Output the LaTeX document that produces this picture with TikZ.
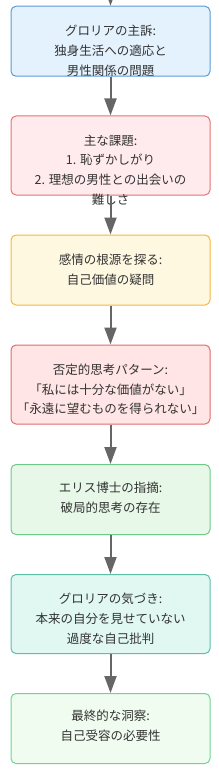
\documentclass[tikz,border=0pt]{standalone}
\usepackage{fontspec}
\setmainfont{Noto Sans CJK JP}
\usetikzlibrary{arrows.meta}

\definecolor{textegris}{HTML}{333333}
\definecolor{flechegris}{HTML}{666666}
\definecolor{bleufond}{HTML}{E3F2FD}
\definecolor{bleubord}{HTML}{5B9BD5}
\definecolor{rougefond}{HTML}{FFEBEE}
\definecolor{rougebord}{HTML}{E57373}
\definecolor{jaunefond}{HTML}{FFF8E1}
\definecolor{jaunebord}{HTML}{F5B642}
\definecolor{rosefond}{HTML}{FFE5E5}
\definecolor{rosebord}{HTML}{E06C6C}
\definecolor{vertfond}{HTML}{E8F8E8}
\definecolor{vertbord}{HTML}{6CCB8A}
\definecolor{cyanfond}{HTML}{E0F7F2}
\definecolor{cyanbord}{HTML}{5DBFA8}
\definecolor{vertclfond}{HTML}{F0FCF0}
\definecolor{vertclbord}{HTML}{70D494}

\begin{document}
\begin{tikzpicture}[x=1pt, y=-1pt,
    boite/.style={rounded corners=5pt, line width=1pt, minimum width=199pt, inner sep=0pt},
    texte/.style={anchor=north, align=center, inner sep=0pt, text=textegris,
        font=\fontsize{12.5}{19.8}\selectfont},
    fleche/.style={draw=flechegris, line width=2pt, -{Triangle[length=17pt, width=12pt]}}]

    % Cadre
    \clip (0,0) rectangle (218,770);

    % Boîtes
    \node[boite, draw=bleubord, fill=bleufond, minimum height=70pt] (plainte) at (110.5,41.25) {};
    \node[boite, draw=rougebord, fill=rougefond, minimum height=79pt] (defis) at (110.5,155.5) {};
    \node[boite, draw=jaunebord, fill=jaunefond, minimum height=70pt] (racine) at (110.5,270) {};
    \node[boite, draw=rosebord, fill=rosefond, minimum height=79pt] (negatif) at (110.5,384.5) {};
    \node[boite, draw=vertbord, fill=vertfond, minimum height=70pt] (ellis) at (110.5,499.5) {};
    \node[boite, draw=cyanbord, fill=cyanfond, minimum height=79pt] (eveil) at (110.5,614) {};
    \node[boite, draw=vertclbord, fill=vertclfond, minimum height=70pt] (final) at (110.5,728.5) {};

    % Textes
    \node[texte] (plaintetxt) at ([yshift=-19pt]plainte.north) {グロリアの主訴:\\独身生活への適応と\\男性関係の問題};
    \node[texte] (defistxt) at ([yshift=-19pt]defis.north) {主な課題:\\1. 恥ずかしがり\\2. 理想の男性との出会いの\\難しさ};
    \node[texte] (racinetxt) at ([yshift=-19pt]racine.north) {感情の根源を探る:\\自己価値の疑問};
    \node[texte] (negatiftxt) at ([yshift=-19pt]negatif.north) {否定的思考パターン:\\「私には十分な価値がない」\\「永遠に望むものを得られない」};
    \node[texte] (ellistxt) at ([yshift=-18pt]ellis.north) {エリス博士の指摘:\\破局的思考の存在};
    \node[texte] (eveiltxt) at ([yshift=-19pt]eveil.north) {グロリアの気づき:\\本来の自分を見せていない\\過度な自己批判};
    \node[texte] (finaltxt) at ([yshift=-17pt]final.north) {最終的な洞察:\\自己受容の必要性};

    % Flèches
    \coordinate (haut) at (110.5,-40);
    \draw[fleche] (haut) -- (plainte);
    \draw[fleche] (plainte) -- (defis);
    \draw[fleche] (defis) -- (racine);
    \draw[fleche] (racine) -- (negatif);
    \draw[fleche] (negatif) -- (ellis);
    \draw[fleche] (ellis) -- (eveil);
    \draw[fleche] (eveil) -- (final);

\end{tikzpicture}
\end{document}
